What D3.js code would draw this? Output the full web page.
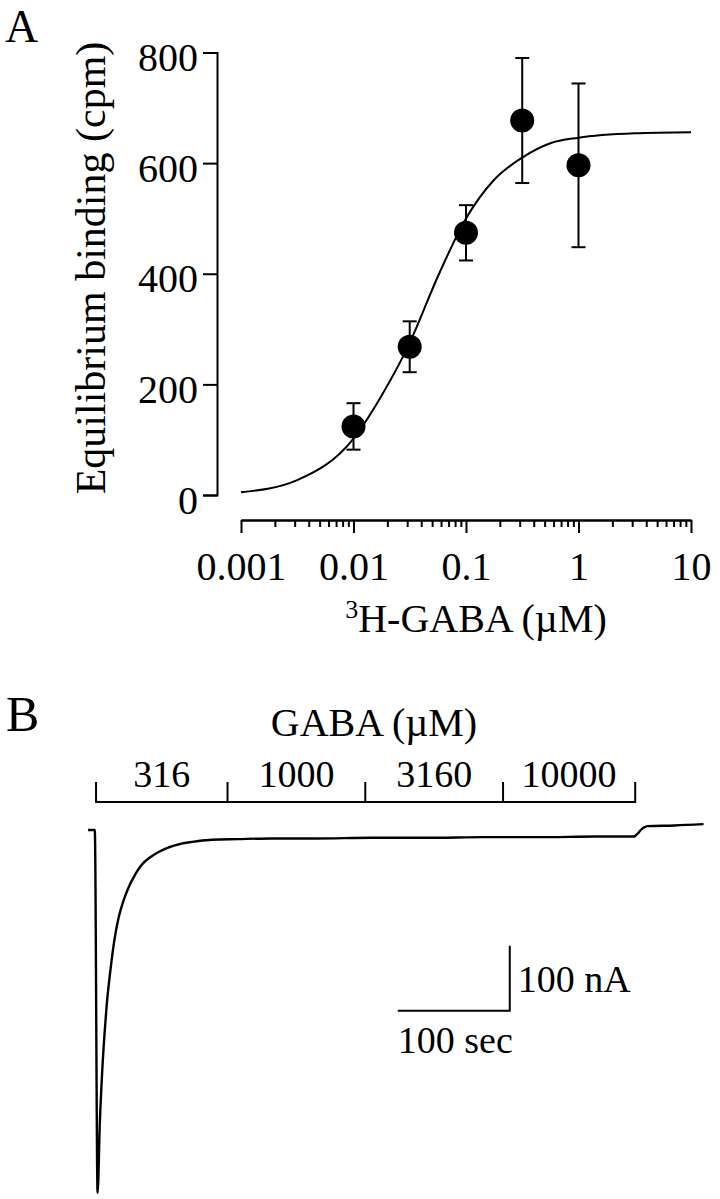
<!DOCTYPE html>
<html>
<head>
<meta charset="utf-8">
<script src="https://cdn.jsdelivr.net/npm/d3@7"></script>
<style>
body { margin: 0; background: #fff; }
svg text { font-family: "Liberation Serif", "Times New Roman", serif; fill: #000; }
</style>
</head>
<body>
<svg id="fig" width="720" height="1199"></svg>
<script>
// panel A: equilibrium binding
var conc = [0.01, 0.0316, 0.1, 0.316, 1];
var binding = [124, 268, 474, 677, 596];
var bindingErr = [42, 46, 50, 113, 148];
// fitted curve
var fitConc = [0.001, 0.00316, 0.01, 0.0178, 0.0316, 0.0562, 0.1, 0.178, 0.316, 0.562, 1, 3.16, 10];
var fitBinding = [5, 27, 102, 180, 275, 395, 500, 570, 610, 636, 646, 654, 656];
var yTicks = [0, 200, 400, 600, 800];
var xDecades = [0.001, 0.01, 0.1, 1, 10];
var xTickLabels = ['0.001', '0.01', '0.1', '1', '10'];

// panel B: current trace (sec, nA)
var traceT = [-3.5, 2.5, 5, 7, 9, 11, 13, 16.5, 20.3, 24, 27.7, 31.5, 39, 44.6, 52, 61.6, 68, 80, 95, 107, 130, 160, 200, 250, 300, 350, 400, 450, 484, 487, 490, 493, 496, 520, 546];
var traceI = [0, 0, -558, -450, -375, -318, -272, -215, -166, -133, -111, -93, -67, -53, -42, -32, -27, -21, -17, -15, -14, -13, -13, -12, -12, -11, -11, -10, -10, -6, 0, 4, 6, 7, 9];
var gabaLabels = ['316', '1000', '3160', '10000'];
var gabaStart = [3.6, 121, 244, 367];
var gabaEnd = 485;
var scaleBar = { t: 273, i: -278, dt: 100, di: 100 };

var svg = d3.select('#fig');

function styleAxis(g) {
    g.attr('font-size', null).attr('font-family', null);
    g.selectAll('path, line').attr('stroke', '#000').attr('stroke-width', 2);
}

// ---------- A ----------
var x = d3.scaleLog().domain([0.001, 10]).range([241, 691]);
var y = d3.scaleLinear().domain([0, 800]).range([495, 52.5]);

svg.append('text').attr('x', 5).attr('y', 42).style('font-size', '46px').text('A');

var yAxis = svg.append('g')
    .attr('transform', 'translate(217,0)')
    .call(d3.axisLeft(y).tickValues(yTicks).tickSize(14).tickSizeOuter(14).tickPadding(5));
styleAxis(yAxis);
yAxis.selectAll('text').style('font-size', '40px').attr('dy', '0.45em');

var minor = x.ticks().filter(function (d) { return xDecades.indexOf(d) < 0; });
var xMinor = svg.append('g')
    .attr('transform', 'translate(0,520)')
    .call(d3.axisBottom(x).tickValues(minor).tickSize(7).tickSizeOuter(0).tickFormat(''));
styleAxis(xMinor);
var xAxis = svg.append('g')
    .attr('transform', 'translate(0,520)')
    .call(d3.axisBottom(x).tickValues(xDecades).tickSize(13).tickSizeOuter(0)
        .tickFormat(function (d, i) { return xTickLabels[i]; }));
styleAxis(xAxis);
xAxis.selectAll('text').style('font-size', '40px').attr('y', 60).attr('dy', null);

svg.append('text')
    .attr('transform', 'translate(105,268) rotate(-90)')
    .attr('text-anchor', 'middle')
    .style('font-size', '42px')
    .text('Equilibrium binding (cpm)');

var xTitle = svg.append('text')
    .attr('x', 476).attr('y', 632)
    .attr('text-anchor', 'middle')
    .style('font-size', '40px');
xTitle.append('tspan').style('font-size', '26px').attr('dy', -14).text('3');
xTitle.append('tspan').attr('dy', 14).text('H-GABA (\u00b5M)');

var fitLine = d3.line()
    .x(function (d) { return x(d[0]); })
    .y(function (d) { return y(d[1]); })
    .curve(d3.curveMonotoneX);
svg.append('path')
    .attr('d', fitLine(d3.zip(fitConc, fitBinding)))
    .attr('fill', 'none')
    .attr('stroke', '#000')
    .attr('stroke-width', 2);

var pts = svg.selectAll('.pt')
    .data(d3.range(conc.length))
    .enter().append('g')
    .attr('class', 'pt');
pts.append('line')
    .attr('x1', function (i) { return x(conc[i]); })
    .attr('x2', function (i) { return x(conc[i]); })
    .attr('y1', function (i) { return y(binding[i] - bindingErr[i]); })
    .attr('y2', function (i) { return y(binding[i] + bindingErr[i]); })
    .attr('stroke', '#000').attr('stroke-width', 2);
[-1, 1].forEach(function (s) {
    pts.append('line')
        .attr('x1', function (i) { return x(conc[i]) - 7; })
        .attr('x2', function (i) { return x(conc[i]) + 7; })
        .attr('y1', function (i) { return y(binding[i] + s * bindingErr[i]); })
        .attr('y2', function (i) { return y(binding[i] + s * bindingErr[i]); })
        .attr('stroke', '#000').attr('stroke-width', 2);
});
pts.append('circle')
    .attr('cx', function (i) { return x(conc[i]); })
    .attr('cy', function (i) { return y(binding[i]); })
    .attr('r', 12)
    .attr('fill', '#000');

// ---------- B ----------
var t = d3.scaleLinear().domain([0, 100]).range([92, 204]);
var cur = d3.scaleLinear().domain([0, -100]).range([830, 895]);

svg.append('text').attr('x', 6).attr('y', 731).style('font-size', '50px').text('B');

svg.append('text')
    .attr('x', 374).attr('y', 736)
    .attr('text-anchor', 'middle')
    .style('font-size', '40px')
    .text('GABA (\u00b5M)');

var bounds = gabaStart.concat([gabaEnd]);
var bracket = svg.append('g');
bracket.append('line')
    .attr('x1', t(bounds[0])).attr('x2', t(gabaEnd))
    .attr('y1', 802).attr('y2', 802)
    .attr('stroke', '#000').attr('stroke-width', 2);
bracket.selectAll('.tk')
    .data(bounds)
    .enter().append('line')
    .attr('x1', function (d) { return t(d); })
    .attr('x2', function (d) { return t(d); })
    .attr('y1', 782).attr('y2', 803)
    .attr('stroke', '#000').attr('stroke-width', 2);
bracket.selectAll('.lab')
    .data(gabaLabels)
    .enter().append('text')
    .attr('x', function (d, i) { return (t(bounds[i]) + t(bounds[i + 1])) / 2; })
    .attr('y', 787)
    .attr('text-anchor', 'middle')
    .style('font-size', '38px')
    .text(function (d) { return d; });

var traceLine = d3.line()
    .x(function (d) { return t(d[0]); })
    .y(function (d) { return cur(d[1]); })
    .curve(d3.curveMonotoneX);
svg.append('path')
    .attr('d', traceLine(d3.zip(traceT, traceI)))
    .attr('fill', 'none')
    .attr('stroke', '#000')
    .attr('stroke-width', 2.4)
    .attr('stroke-linejoin', 'round');

var sb = svg.append('g');
sb.append('path')
    .attr('d', 'M' + t(scaleBar.t) + ',' + cur(scaleBar.i) +
        'H' + t(scaleBar.t + scaleBar.dt) +
        'V' + cur(scaleBar.i + scaleBar.di))
    .attr('fill', 'none')
    .attr('stroke', '#000')
    .attr('stroke-width', 2);
sb.append('text')
    .attr('x', t(scaleBar.t + scaleBar.dt) + 8)
    .attr('y', 992)
    .style('font-size', '38px')
    .text('100 nA');
sb.append('text')
    .attr('x', t(scaleBar.t))
    .attr('y', 1053)
    .style('font-size', '38px')
    .text('100 sec');
</script>
</body>
</html>
